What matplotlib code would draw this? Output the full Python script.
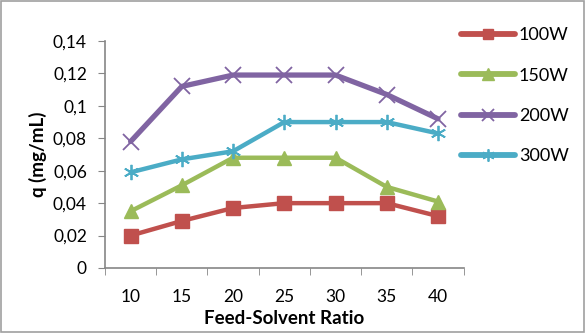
import matplotlib
matplotlib.use("Agg")
import matplotlib.pyplot as plt
from matplotlib.patches import Rectangle
from matplotlib.lines import Line2D

categories = ["10", "15", "20", "25", "30", "35", "40"]
series_names = ["100W", "150W", "200W", "300W"]
q_100w = [0.020, 0.029, 0.037, 0.040, 0.040, 0.040, 0.032]
q_150w = [0.035, 0.051, 0.068, 0.068, 0.068, 0.050, 0.041]
q_200w = [0.078, 0.112, 0.119, 0.119, 0.119, 0.107, 0.092]
q_300w = [0.059, 0.067, 0.072, 0.090, 0.090, 0.090, 0.083]
y_ticks = [0, 0.02, 0.04, 0.06, 0.08, 0.10, 0.12, 0.14]
y_tick_labels = ["0", "0,02", "0,04", "0,06", "0,08", "0,1", "0,12", "0,14"]

plt.rcParams['font.family'] = ['Lato', 'DejaVu Sans']

fig = plt.figure(figsize=(5.85, 3.33), dpi=100)
ax = fig.add_axes([105/585, (333-268)/333, (463.6-105)/585, (268-41)/333])

x = list(range(len(categories)))
styles = [
    (q_100w, "#C0504D", "s", 3.2, 9.5, 1.0),
    (q_150w, "#9BBB59", "^", 3.2, 10.5, 1.0),
    (q_200w, "#8064A2", "x", 3.8, 11, 1.3),
    (q_300w, "#4BACC6", (6, 2, 0), 3.2, 11, 1.3),
]
for (vals, col, mk, lw, ms, mew), name in zip(styles, series_names):
    ax.plot(x, vals, color=col, lw=lw, marker=mk, ms=ms,
            mfc=col, mec=col, mew=mew, solid_capstyle="round",
            solid_joinstyle="round", label=name, zorder=3)

ax.set_xlim(-0.5, len(categories) - 0.5)
ax.set_ylim(0, 0.14)
ax.set_yticks(y_ticks)
ax.set_yticklabels(y_tick_labels)
ax.set_xticks(x)
ax.set_xticklabels(categories)
ax.set_xticks([i - 0.5 for i in range(len(categories) + 1)], minor=True)
ax.tick_params(axis="x", which="major", length=0, labelsize=12.5, pad=15)
ax.tick_params(axis="x", which="minor", length=5, color="#868686", direction="out")
ax.tick_params(axis="y", length=5, color="#868686", labelsize=12.5, direction="out", pad=8)
for s in ["top", "right"]:
    ax.spines[s].set_visible(False)
for s in ["left", "bottom"]:
    ax.spines[s].set_color("#868686")
    ax.spines[s].set_linewidth(1.2)
ax.set_xlabel("Feed-Solvent Ratio", fontsize=13.5, fontweight="bold", labelpad=4)
ax.set_ylabel("q (mg/mL)", fontsize=13.5, fontweight="bold", labelpad=4)

leg_handles = []
for (vals, col, mk, lw, ms, mew), name in zip(styles, series_names):
    leg_handles.append(Line2D([], [], color=col, lw=4.2, marker=mk, ms=ms*0.8,
                              mfc=col, mec=col, mew=mew, solid_capstyle="round"))
fig.legend(leg_handles, series_names, loc="upper left",
           bbox_to_anchor=(454/585, 1 - 20/333), frameon=False,
           fontsize=13, handlelength=3.0, labelspacing=1.35,
           handletextpad=0.2, borderaxespad=0)

fig.patches.append(Rectangle((0.001, 0.002), 0.997, 0.996, transform=fig.transFigure,
                             fill=False, edgecolor="#A0A0A0", lw=1.2))
fig.savefig("out.png", dpi=100)
